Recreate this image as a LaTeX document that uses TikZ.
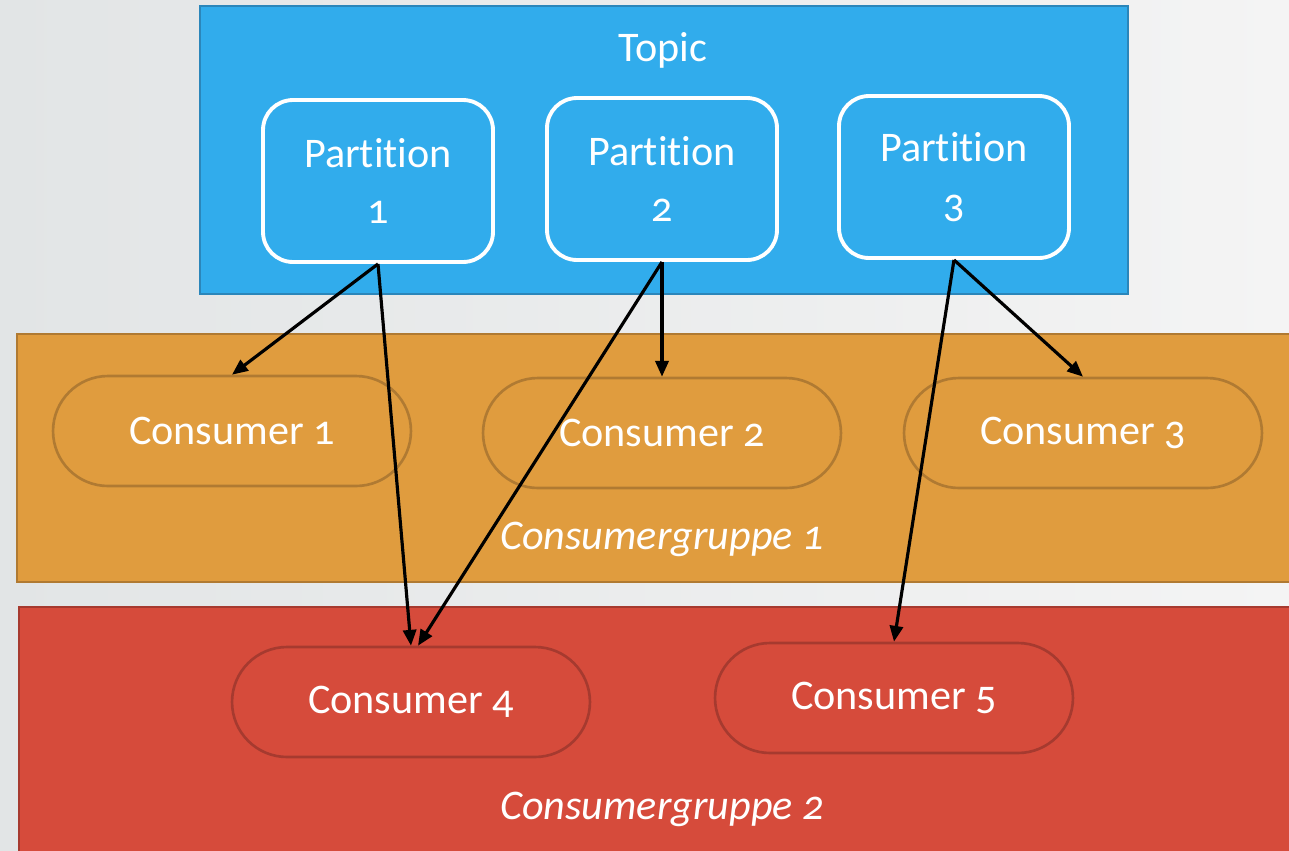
\documentclass[tikz,border=0pt]{standalone}
\usepackage{fontspec}
\setmainfont{Carlito}[Numbers=OldStyle, Ligatures=NoCommon]
\usepackage{tikz}
\usetikzlibrary{arrows.meta,positioning}

\definecolor{topicblue}{HTML}{31ACEC}
\definecolor{topicedge}{HTML}{2B86BA}
\definecolor{groupone}{HTML}{E09C3E}
\definecolor{groupedge}{HTML}{B07A32}
\definecolor{grouptwo}{HTML}{D64B3B}
\definecolor{grouptwoedge}{HTML}{A63A2F}
\definecolor{bgleft}{HTML}{E2E5E6}
\definecolor{bgright}{HTML}{F4F4F4}

\newcommand{\slidefont}{\fontsize{24}{33}\selectfont}
\newcommand{\partword}{Part\kern0pt ition}

\tikzset{
  partition/.style={draw=white, line width=2.2pt, rounded corners=0.6cm,
    minimum width=4.6cm, minimum height=3.24cm, align=center,
    text=white, font=\slidefont},
  consumer/.style={line width=1.5pt, rounded corners=1.1cm,
    minimum width=7.16cm, minimum height=2.2cm, text=white, font=\slidefont},
  grouplabel/.style={text=white, font=\slidefont\itshape},
  arr/.style={-{Triangle[length=9pt,width=7.5pt]}, line width=1.8pt}
}

\begin{document}
\begin{tikzpicture}[x=0.02cm,y=-0.02cm]
    \useasboundingbox (0,0) rectangle (1289,850);
    \shade[left color=bgleft, right color=bgright] (0,0) rectangle (1289,850);

    % topic with its partitions
    \draw[fill=topicblue, draw=topicedge, line width=1pt] (200,6) rectangle (1128,294);
    \node[text=white, font=\slidefont] (topic) at (663,50) {Topic};
    \node[partition] (p1) at (378,181) {\partword\\[-1pt]1};
    \node[partition] (p2) at (662,179) {\partword\\[-1pt]2};
    \node[partition] (p3) at (954,177) {\partword\\[-1pt]3};

    % consumer groups
    \draw[fill=groupone, draw=groupedge, line width=1pt] (17,334) rectangle (1300,582);
    \draw[fill=grouptwo, draw=grouptwoedge, line width=1pt] (19,607) rectangle (1300,860);

    \node[consumer, draw=groupedge] (c1) at (232,431) {Consumer 1};
    \node[consumer, draw=groupedge] (c2) at (662,433) {Consumer 2};
    \node[consumer, draw=groupedge] (c3) at (1083,433) {Consumer 3};
    \node[grouplabel] (g1) at (662,539) {Consumergruppe 1};

    \node[consumer, draw=grouptwoedge] (c4) at (411,702) {Consumer 4};
    \node[consumer, draw=grouptwoedge] (c5) at (894,698) {Consumer 5};
    \node[grouplabel] (g2) at (662,809) {Consumergruppe 2};

    % assignments
    \draw[arr] (p1.south) -- (c1.north);
    \draw[arr] (p1.south) -- (c4.north);
    \draw[arr] (p2.south) -- (c2.north);
    \draw[arr] (p2.south) -- ([xshift=4]c4.north);
    \draw[arr] (p3.south) -- (c3.north);
    \draw[arr] (p3.south) -- (c5.north);
\end{tikzpicture}
\end{document}
